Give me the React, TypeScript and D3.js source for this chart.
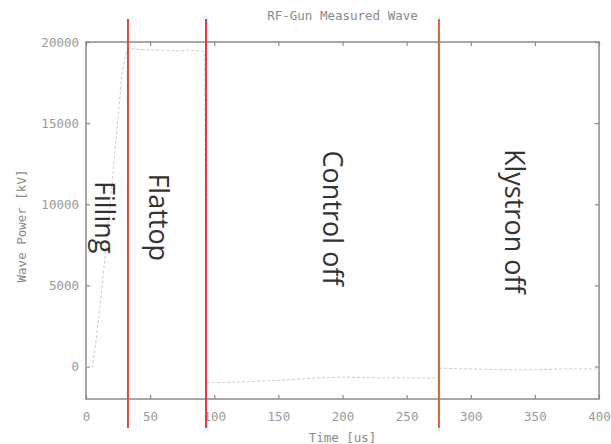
import React, { useEffect, useRef } from "react";
import * as d3 from "d3";

const width = 611;
const height = 444;
const margin = { top: 42, right: 12, bottom: 45, left: 86 };

const timeUs = [0, 5, 8, 12, 16, 20, 24, 28, 31, 33, 40, 50, 60, 70, 80, 88, 92.5, 93.5, 100, 120, 150, 180, 200, 230, 250, 270, 275, 276, 300, 330, 350, 370, 400];
const powerKV = [0, 0, 1700, 4500, 7700, 11000, 14500, 18000, 19300, 19600, 19550, 19500, 19500, 19450, 19500, 19450, 19400, -950, -1000, -950, -850, -700, -650, -700, -700, -720, -650, -100, -150, -200, -200, -150, -150];

// operating phase boundaries [us]
const phaseLines = [32.7, 93.6, 275.2];
const phaseColors = ["#e2453d", "#dc3a40", "#e4602f"];
const phaseNames = ["Filling", "Flattop", "Control off", "Klystron off"];
const phaseLabelTime = [14.5, 56.5, 192.5, 334];
const phaseLabelPower = [9200, 9200, 9150, 8950];

const xTicks = [0, 50, 100, 150, 200, 250, 300, 350, 400];
const yTicks = [0, 5000, 10000, 15000, 20000];

const mono = "'DejaVu Sans Mono', monospace";

export default function App() {
  const xAxisRef = useRef<SVGGElement>(null);
  const yAxisRef = useRef<SVGGElement>(null);
  const topAxisRef = useRef<SVGGElement>(null);
  const rightAxisRef = useRef<SVGGElement>(null);

  const x = d3.scaleLinear().domain([0, 400]).range([margin.left, width - margin.right]);
  const y = d3.scaleLinear().domain([-2000, 20000]).range([height - margin.bottom, margin.top]);

  const points = timeUs.map((t, i) => [t, powerKV[i]] as [number, number]);
  const line = d3
    .line<[number, number]>()
    .x((d) => x(d[0]))
    .y((d) => y(d[1]));

  useEffect(() => {
    const style = (g: d3.Selection<SVGGElement, unknown, null, undefined>) => {
      g.select(".domain").remove();
      g.selectAll(".tick line").attr("stroke", "#8a8a8a").attr("stroke-width", 1.2);
      g.selectAll(".tick text")
        .attr("fill", "#9a9a9a")
        .style("font-family", mono)
        .style("font-size", "12.5px");
    };

    d3.select(xAxisRef.current!)
      .call(d3.axisBottom(x).tickValues(xTicks).tickSize(-4).tickPadding(13).tickFormat(d3.format("d")))
      .call(style);
    d3.select(yAxisRef.current!)
      .call(d3.axisLeft(y).tickValues(yTicks).tickSize(-4).tickPadding(7).tickFormat(d3.format("d")))
      .call(style);
    d3.select(topAxisRef.current!)
      .call(d3.axisTop(x).tickValues(xTicks).tickSize(-4).tickFormat(() => ""))
      .call(style);
    d3.select(rightAxisRef.current!)
      .call(d3.axisRight(y).tickValues(yTicks).tickSize(-4).tickFormat(() => ""))
      .call(style);
  }, []);

  return (
    <svg
      width={width}
      height={height}
      style={{ position: "absolute", left: 0, top: 0, background: "#fff" }}
    >
      <rect x={0} y={0} width={width} height={height} fill="#fff" />

      <text
        x={(margin.left + width - margin.right) / 2}
        y={20}
        textAnchor="middle"
        fill="#8a8a8a"
        style={{ fontFamily: mono, fontSize: "12.5px" }}
      >
        RF-Gun Measured Wave
      </text>

      <rect
        x={margin.left}
        y={margin.top}
        width={width - margin.left - margin.right}
        height={height - margin.top - margin.bottom}
        fill="none"
        stroke="#8a8a8a"
        strokeWidth={1.5}
      />

      <g ref={xAxisRef} transform={`translate(0,${height - margin.bottom})`} />
      <g ref={yAxisRef} transform={`translate(${margin.left},0)`} />
      <g ref={topAxisRef} transform={`translate(0,${margin.top})`} />
      <g ref={rightAxisRef} transform={`translate(${width - margin.right},0)`} />

      <path
        d={line(points) ?? ""}
        fill="none"
        stroke="#cdcdcd"
        strokeWidth={1}
        strokeDasharray="3,2"
      />

      {phaseLines.map((t, i) => (
        <line
          key={t}
          x1={x(t)}
          x2={x(t)}
          y1={19}
          y2={428}
          stroke={phaseColors[i]}
          strokeWidth={2}
        />
      ))}

      {phaseNames.map((name, i) => (
        <text
          key={name}
          transform={`translate(${x(phaseLabelTime[i])},${y(phaseLabelPower[i])}) rotate(90)`}
          textAnchor="middle"
          dy="0.35em"
          fill="#333"
          style={{ fontFamily: "'Open Sans', 'Noto Sans', sans-serif", fontSize: "27px" }}
        >
          {name}
        </text>
      ))}

      <text
        x={(margin.left + width - margin.right) / 2}
        y={442}
        textAnchor="middle"
        fill="#8a8a8a"
        style={{ fontFamily: mono, fontSize: "12.5px" }}
      >
        Time [us]
      </text>

      <text
        transform={`translate(26,226) rotate(-90)`}
        textAnchor="middle"
        fill="#8a8a8a"
        style={{ fontFamily: mono, fontSize: "12.5px" }}
      >
        Wave Power [kV]
      </text>
    </svg>
  );
}
